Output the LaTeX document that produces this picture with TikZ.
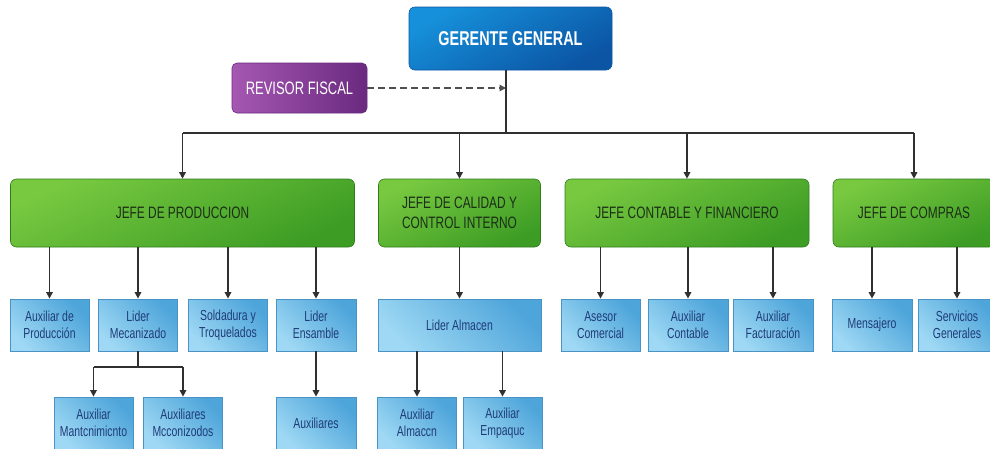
\documentclass[tikz,border=0pt]{standalone}
\usepackage{fontspec}
\setmainfont{Liberation Sans}[FakeStretch=0.72]
\usepackage{tikz}
\usetikzlibrary{arrows.meta}
\definecolor{gerenteA}{HTML}{1690DA}
\definecolor{gerenteB}{HTML}{0B55A4}
\definecolor{revisorA}{HTML}{A557B2}
\definecolor{revisorB}{HTML}{6A2A80}
\definecolor{jefeA}{HTML}{78C940}
\definecolor{jefeB}{HTML}{3C9C24}
\definecolor{jefeline}{HTML}{2E7C1C}
\definecolor{jefetext}{HTML}{1C2E18}
\definecolor{cargoA}{HTML}{9ED8F4}
\definecolor{cargoB}{HTML}{4EA5DA}
\definecolor{cargoline}{HTML}{4A93C6}
\definecolor{cargotext}{HTML}{1F3C78}
\definecolor{linea}{HTML}{303030}

\begin{document}
\begin{tikzpicture}[x=1pt,y=-1pt,
    gerente/.style={shade,top color=gerenteA,bottom color=gerenteB,shading angle=30,draw=gerenteB,line width=0.6pt,rounded corners=6pt,minimum width=203pt,minimum height=63pt,inner sep=0pt,text=white,font=\fontsize{20}{24}\selectfont\bfseries},
    revisor/.style={shade,left color=revisorA,right color=revisorB,draw=revisorB,line width=0.6pt,rounded corners=5pt,minimum width=135pt,minimum height=50pt,inner sep=0pt,text=white,font=\fontsize{18}{21}\selectfont},
    jefe/.style={shade,top color=jefeA,bottom color=jefeB,shading angle=25,draw=jefeline,line width=0.6pt,rounded corners=6pt,minimum height=68pt,inner sep=0pt,align=center,text=jefetext,font=\fontsize{16.5}{19.5}\selectfont},
    cargo/.style={shade,top color=cargoB,bottom color=cargoA,shading angle=-45,draw=cargoline,line width=0.8pt,minimum width=79pt,minimum height=52pt,inner sep=0pt,align=center,text=cargotext,font=\fontsize{14.5}{16.5}\selectfont},
    linea/.style={draw=linea,line width=1.5pt},
    flecha/.style={linea,-{Triangle[width=6.5pt,length=6.5pt]}},
    punteada/.style={draw=linea!85,line width=2pt,dash pattern=on 7pt off 4pt,-{Triangle[width=6.5pt,length=6.5pt]}}]
    \useasboundingbox (0,0) rectangle (990,448);
    \node[gerente] (gg) at (510.5,38.5) {GERENTE GENERAL};
    \node[revisor] (rf) at (299.5,88) {REVISOR FISCAL};
    \node[jefe,minimum width=344pt] (prod) at (182.5,213) {JEFE DE PRODUCCION};
    \node[jefe,minimum width=162pt] (cal) at (459.5,213) {JEFE DE CALIDAD Y\\CONTROL INTERNO};
    \node[jefe,minimum width=244pt] (cont) at (687,213) {JEFE CONTABLE Y FINANCIERO};
    \node[jefe,minimum width=162pt] (comp) at (914,213) {JEFE DE COMPRAS};
    \node[cargo] (ap) at (49.5,325) {Auxiliar de\\Producción};
    \node[cargo] (lm) at (138,325) {Lider\\Mecanizado};
    \node[cargo] (st) at (228,325) {Soldadura y\\Troquelados};
    \node[cargo,minimum width=80pt] (le) at (316,325) {Lider\\Ensamble};
    \node[cargo,minimum width=163pt] (la) at (459.5,325) {Lider Almacen};
    \node[cargo] (ac) at (600.5,325) {Asesor\\Comercial};
    \node[cargo,minimum width=80pt] (auc) at (688,325) {Auxiliar\\Contable};
    \node[cargo,minimum width=80pt] (auf) at (773,325) {Auxiliar\\Facturación};
    \node[cargo,minimum width=80pt] (me) at (872,325) {Mensajero};
    \node[cargo,minimum width=78pt] (sg) at (957,325) {Servicios\\Generales};
    \node[cargo] (am) at (93.5,423) {Auxiliar\\Mantcnimicnto};
    \node[cargo] (amz) at (183,423) {Auxiliares\\Mcconizodos};
    \node[cargo,minimum width=80pt] (aux) at (316,423) {Auxiliares};
    \node[cargo] (aal) at (417,423) {Auxiliar\\Almaccn};
    \node[cargo] (aem) at (502.5,423) {Auxiliar\\Empaquc};
    \coordinate (bus) at (506,133);
    \coordinate (rama) at (138,367);
    \draw[punteada] (rf.east) -- (rf.east -| bus);
    \draw[linea] (gg.south -| bus) -- (bus);
    \draw[linea] (bus -| prod) -- (bus -| comp);
    \draw[flecha] (bus -| prod) -- (prod.north);
    \draw[flecha] (bus -| cal) -- (cal.north);
    \draw[flecha] (bus -| cont) -- (cont.north);
    \draw[flecha] (bus -| comp) -- (comp.north);
    \draw[flecha] (prod.south -| ap) -- (ap.north);
    \draw[flecha] (prod.south -| lm) -- (lm.north);
    \draw[flecha] (prod.south -| st) -- (st.north);
    \draw[flecha] (prod.south -| le) -- (le.north);
    \draw[flecha] (cal.south) -- (la.north);
    \draw[flecha] (cont.south -| ac) -- (ac.north);
    \draw[flecha] (cont.south -| auc) -- (auc.north);
    \draw[flecha] (cont.south -| auf) -- (auf.north);
    \draw[flecha] (comp.south -| me) -- (me.north);
    \draw[flecha] (comp.south -| sg) -- (sg.north);
    \draw[linea] (lm.south) -- (rama);
    \draw[linea] (rama -| am) -- (rama -| amz);
    \draw[flecha] (rama -| am) -- (am.north);
    \draw[flecha] (rama -| amz) -- (amz.north);
    \draw[flecha] (le.south) -- (aux.north);
    \draw[flecha] (la.south -| aal) -- (aal.north);
    \draw[flecha] (la.south -| aem) -- (aem.north);
\end{tikzpicture}
\end{document}
